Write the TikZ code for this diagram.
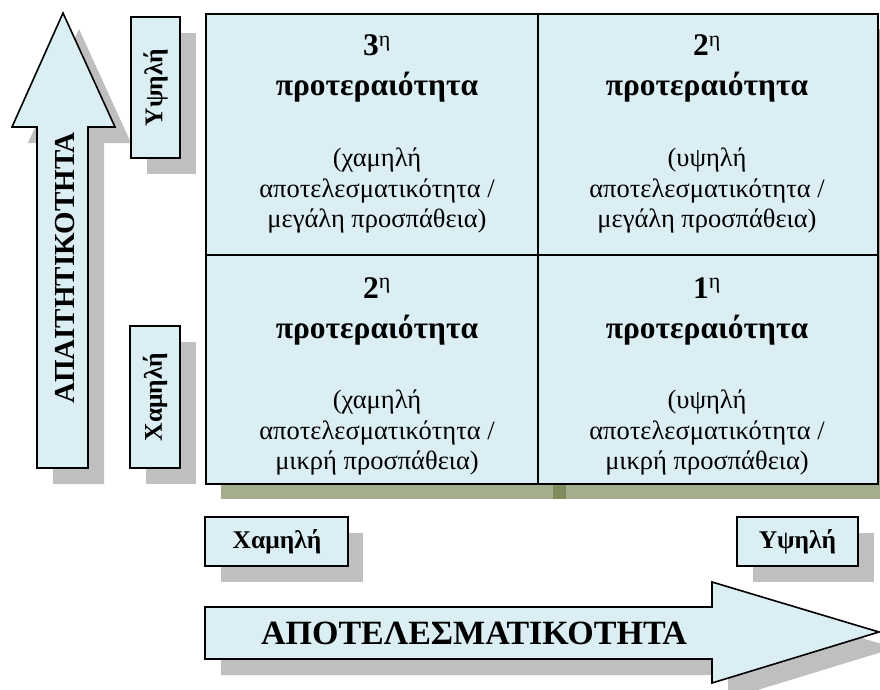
\documentclass[tikz,border=0pt]{standalone}
\usepackage{fontspec}
\setmainfont{Liberation Serif}
\definecolor{cellblue}{HTML}{DAEEF3}
\definecolor{shadowgrey}{HTML}{BFBFBF}
\definecolor{gridshadow}{HTML}{A5AD8F}
\definecolor{gridshadowdark}{HTML}{808C5C}
\begin{document}
\begin{tikzpicture}[x=1pt,y=-1pt,
  boxfill/.style={fill=cellblue,draw=black,line width=1.6pt},
  cell/.style={fill=cellblue,draw=black,line width=1.6pt,inner sep=0pt,anchor=north west},
  cellhead/.style={font=\bfseries\fontsize{31.5}{36}\selectfont,inner sep=0pt,anchor=base},
  cellbody/.style={font=\fontsize{26.5}{30}\selectfont,inner sep=0pt,anchor=base},
  biglbl/.style={font=\bfseries\fontsize{29}{32}\selectfont,inner sep=0pt},
  widelbl/.style={font=\bfseries\fontsize{34}{36}\selectfont,inner sep=0pt},
  smalllbl/.style={font=\bfseries\fontsize{25.5}{28}\selectfont,inner sep=0pt}
]
\useasboundingbox (0,0) rectangle (880,690);

% ---- vertical arrow (ΑΠΑΙΤΗΤΙΚΟΤΗΤΑ)
\fill[shadowgrey] (79,29) -- (131,143) -- (104,143) -- (104,484) -- (53,484) -- (53,143) -- (28,143) -- cycle;
\draw[boxfill] (63,13) -- (115,127) -- (88,127) -- (88,468) -- (37,468) -- (37,127) -- (12,127) -- cycle;
\node[biglbl,rotate=90] (demand) at (65,268) {ΑΠΑΙΤΗΤΙΚΟΤΗΤΑ};

% ---- vertical level boxes
\fill[shadowgrey] (147,33) rectangle (196,174);
\draw[boxfill] (131,17) rectangle (180,158);
\node[smalllbl,rotate=90] (vhigh) at (155.5,87.5) {Υψηλή};
\fill[shadowgrey] (146,342) rectangle (196,484);
\draw[boxfill] (130,326) rectangle (180,468);
\node[smalllbl,rotate=90] (vlow) at (155,397) {Χαμηλή};

% ---- grid shadow
\fill[gridshadow] (221,29) rectangle (893,499);
\fill[gridshadowdark] (553,484) rectangle (566,499);

% ---- grid cells
\node[cell,minimum width=332pt,minimum height=241pt] (c11) at (205,13) {};
\node[cell,minimum width=340pt,minimum height=241pt] (c12) at (537,13) {};
\node[cell,minimum width=332pt,minimum height=229pt] (c21) at (205,254) {};
\node[cell,minimum width=340pt,minimum height=229pt] (c22) at (537,254) {};

% top-left cell
\node[cellhead] (h11a) at (377,56) {3\textsuperscript{\normalfont η}};
\node[cellhead] (h11b) at (377,96) {προτεραιότητα};
\node[cellbody] (b11a) at (377,166) {(χαμηλή};
\node[cellbody] (b11b) at (377,197) {αποτελεσματικότητα /};
\node[cellbody] (b11c) at (377,227) {μεγάλη προσπάθεια)};
% top-right cell
\node[cellhead] (h12a) at (707,56) {2\textsuperscript{\normalfont η}};
\node[cellhead] (h12b) at (707,96) {προτεραιότητα};
\node[cellbody] (b12a) at (707,166) {(υψηλή};
\node[cellbody] (b12b) at (707,197) {αποτελεσματικότητα /};
\node[cellbody] (b12c) at (707,227) {μεγάλη προσπάθεια)};
% bottom-left cell
\node[cellhead] (h21a) at (377,298) {2\textsuperscript{\normalfont η}};
\node[cellhead] (h21b) at (377,338) {προτεραιότητα};
\node[cellbody] (b21a) at (377,408) {(χαμηλή};
\node[cellbody] (b21b) at (377,439) {αποτελεσματικότητα /};
\node[cellbody] (b21c) at (377,469) {μικρή προσπάθεια)};
% bottom-right cell
\node[cellhead] (h22a) at (707,298) {1\textsuperscript{\normalfont η}};
\node[cellhead] (h22b) at (707,338) {προτεραιότητα};
\node[cellbody] (b22a) at (707,408) {(υψηλή};
\node[cellbody] (b22b) at (707,439) {αποτελεσματικότητα /};
\node[cellbody] (b22c) at (707,469) {μικρή προσπάθεια)};

% ---- horizontal level boxes
\fill[shadowgrey] (221,533) rectangle (363,582);
\draw[boxfill] (205,517) rectangle (348,566);
\node[smalllbl] (hlow) at (277,541.5) {Χαμηλή};
\fill[shadowgrey] (753,533) rectangle (874,582);
\draw[boxfill] (737,517) rectangle (858,566);
\node[smalllbl] (hhigh) at (797.5,541.5) {Υψηλή};

% ---- horizontal arrow (ΑΠΟΤΕΛΕΣΜΑΤΙΚΟΤΗΤΑ)
\fill[shadowgrey] (221,623) -- (728,623) -- (728,598) -- (895,648) -- (728,699) -- (728,675) -- (221,675) -- cycle;
\draw[boxfill] (205,607) -- (712,607) -- (712,582) -- (879,632) -- (712,683) -- (712,659) -- (205,659) -- cycle;
\node[widelbl] (effect) at (474,633) {ΑΠΟΤΕΛΕΣΜΑΤΙΚΟΤΗΤΑ};
\end{tikzpicture}
\end{document}
